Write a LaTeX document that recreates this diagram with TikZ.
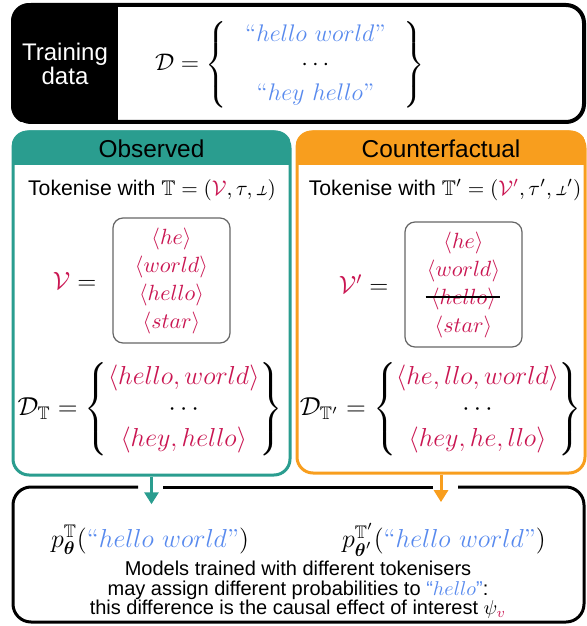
\documentclass[tikz,border=0pt]{standalone}
\usepackage{fix-cm}
\usepackage[no-math]{fontspec}
\setsansfont{Liberation Sans}
\usepackage{amsmath,amssymb}
\usepackage{graphicx}
\usepackage{xcolor}
\usetikzlibrary{positioning,arrows.meta}
\definecolor{obsteal}{RGB}{42,157,143}
\definecolor{cforange}{RGB}{248,158,30}
\definecolor{tokred}{RGB}{202,22,82}
\definecolor{strblue}{RGB}{88,138,238}
\newcommand{\untau}{\mathord{\rotatebox[origin=c]{180}{$\tau$}}}
\newcommand{\vtok}[1]{\textcolor{tokred}{\langle #1\rangle}}
\newcommand{\qstr}[1]{\ensuremath{\textcolor{strblue}{\text{``}#1\text{''}}}}
\setlength{\lineskiplimit}{-10pt}

\begin{document}
\begin{tikzpicture}[x=0.5pt, y=-0.5pt,
  panel/.style={draw, line width=1.5pt, rounded corners=8pt, fill=white, inner sep=0pt},
  headline/.style={font=\sffamily\fontsize{12.2}{12.5}\selectfont},
  plain/.style={font=\sffamily\fontsize{10.6}{11}\selectfont},
  bigmath/.style={font=\fontsize{13}{15.5}\selectfont},
  vocabbox/.style={draw=black!60, line width=0.6pt, rounded corners=5pt, align=center,
    minimum width=58.5pt, minimum height=62.5pt, font=\fontsize{11}{14}\selectfont},
  flow/.style={line width=1.5pt, -{Triangle[length=6pt, width=7pt]}, shorten >=7pt}]
\useasboundingbox (0,0) rectangle (587,626);

% training data
\node[panel, line width=2pt, rounded corners=9pt, minimum width=285.5pt, minimum height=58.5pt] (train) at (298.5,63.5) {};
\begin{scope}
  \clip[rounded corners=9pt] (train.north west) rectangle (train.south east);
  \fill (train.north west) rectangle (118,122);
\end{scope}
\node[white, align=center, font=\sffamily\fontsize{12}{12}\selectfont] (trainlbl) at (65,64) {Training\\data};
\node[anchor=west, font=\fontsize{12}{14.8}\selectfont] (dset) at (148,65)
  {$\mathcal{D} = \left\{\hspace{4pt}\begin{array}{c} \qstr{hello\ world} \\ \cdots \\ \qstr{hey\ hello} \end{array}\hspace{4pt}\right\}$};

% observed
\node[panel, draw=obsteal, minimum width=138.5pt, minimum height=171.5pt] (obs) at (151.5,303.5) {};
\begin{scope}
  \clip[rounded corners=8pt] (obs.north west) rectangle (obs.south east);
  \fill[obsteal] (obs.north west) rectangle (290,165);
\end{scope}
\node[headline] (obshead) at (151.5,149) {Observed};
\node[plain] (obstok) at (152,190) {Tokenise with $\mathbb{T} = (\textcolor{tokred}{\mathcal{V}}, \tau, \untau)$};
\node[vocabbox] (obsvocab) at (171.5,280.5)
  {$\vtok{he}$\\$\vtok{world}$\\$\vtok{hello}$\\$\vtok{star}$};
\node[bigmath, font=\fontsize{12.5}{15}\selectfont, left=4.5pt of obsvocab] (obsV) {$\textcolor{tokred}{\mathcal{V}} =$};
\node[bigmath] (obsD) at (150,409)
  {$\mathcal{D}_{\mathbb{T}} = \left\{\begin{array}{@{}c@{}} \vtok{hello, world} \\ \cdots \\ \vtok{hey, hello} \end{array}\right\}$};

% counterfactual
\node[panel, draw=cforange, minimum width=144pt, minimum height=170.5pt] (cf) at (441,302.5) {};
\begin{scope}
  \clip[rounded corners=8pt] (cf.north west) rectangle (cf.south east);
  \fill[cforange] (cf.north west) rectangle (585,165);
\end{scope}
\node[headline] (cfhead) at (441,149) {Counterfactual};
\node[plain] (cftok) at (445,190) {Tokenise with $\mathbb{T}' = (\textcolor{tokred}{\mathcal{V}'}, \tau', \untau')$};
\node[vocabbox] (cfvocab) at (463.5,284.5)
  {$\vtok{he}$\\$\vtok{world}$\\$\vtok{hello}$\\$\vtok{star}$};
\draw[line width=1pt] ([xshift=-19pt, yshift=-6pt]cfvocab.center) -- ++(74,0);
\node[bigmath, font=\fontsize{12.5}{15}\selectfont, left=4.5pt of cfvocab] (cfV) {$\textcolor{tokred}{\mathcal{V}'} =$};
\node[bigmath] (cfD) at (441,409)
  {$\mathcal{D}_{\mathbb{T}'} = \left\{\begin{array}{@{}c@{}} \vtok{he, llo, world} \\ \cdots \\ \vtok{hey, he, llo} \end{array}\right\}$};

% models
\draw[line width=1.5pt, rounded corners=9pt] (138,487) -- (13,487) -- (13,622) -- (584,622) -- (584,487) -- (458,487);
\draw[line width=1.5pt] (163,487) -- (433,487);
\node[font=\fontsize{13}{15}\selectfont] (pobs) at (150,540) {$p^{\mathbb{T}}_{\boldsymbol{\theta}}(\qstr{hello\ world})$};
\node[font=\fontsize{13}{15}\selectfont] (pcf) at (444,540) {$p^{\mathbb{T}'}_{\boldsymbol{\theta}'}(\qstr{hello\ world})$};
\node[align=center, font=\sffamily\fontsize{10}{9.8}\selectfont] (effect) at (298,590)
  {Models trained with different tokenisers\\may assign different probabilities to \qstr{hello}:\\this difference is the causal effect of interest $\psi_{\textcolor{tokred}{v}}$};

\draw[flow, obsteal] (obs.south) -- (obs.south |- pobs.north);
\draw[flow, cforange] (cf.south) -- (cf.south |- pcf.north);
\end{tikzpicture}
\end{document}
